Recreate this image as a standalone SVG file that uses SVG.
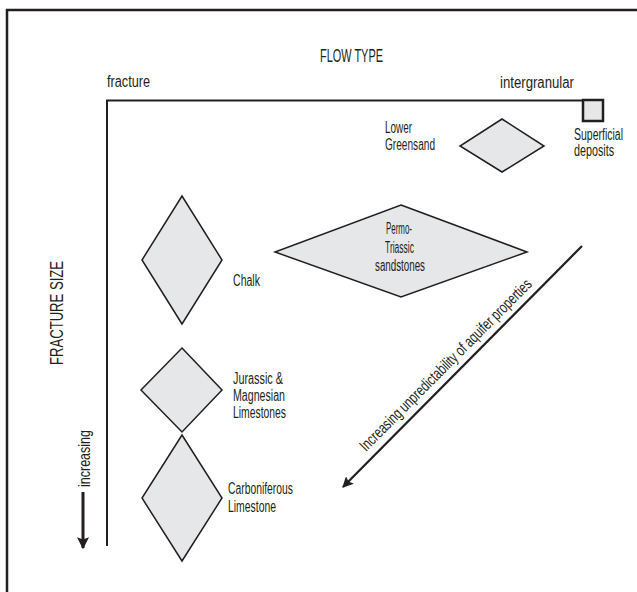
<svg xmlns="http://www.w3.org/2000/svg" width="637" height="592" viewBox="0 0 637 592">
<style>
text{font-family:"Liberation Sans",Arial,sans-serif;fill:#231f20;font-size:16px}
.t{font-size:18px}
.d{fill:#e6e7e8;stroke:#231f20;stroke-width:1.5}
.ax{fill:none;stroke:#231f20;stroke-width:2}
</style>
<defs>
<marker id="ah" viewBox="0 0 10 10" refX="9" refY="5" markerWidth="5" markerHeight="5" orient="auto" markerUnits="strokeWidth">
<path d="M0,0 L10,5 L0,10 L2,5 Z" fill="#231f20"/>
</marker>
<marker id="ah2" viewBox="0 0 10 10" refX="9" refY="5" markerWidth="5.5" markerHeight="4" orient="auto" markerUnits="strokeWidth">
<path d="M0,0 L10,5 L0,10 L2,5 Z" fill="#231f20"/>
</marker>
</defs>
<rect x="0" y="0" width="637" height="592" fill="#fff"/>
<path d="M7,592 V10 H637" fill="none" stroke="#231f20" stroke-width="2.5"/>
<g id="axes">
<path class="ax" d="M107,546 V100.5 H583"/>
<text class="t" x="320" y="62" textLength="63" lengthAdjust="spacingAndGlyphs">FLOW TYPE</text>
<text x="107" y="87" textLength="43" lengthAdjust="spacingAndGlyphs">fracture</text>
<text x="500" y="88" textLength="74" lengthAdjust="spacingAndGlyphs">intergranular</text>
<text class="t" transform="translate(63,365) rotate(-90)" textLength="104" lengthAdjust="spacingAndGlyphs">FRACTURE SIZE</text>
<text transform="translate(90,487) rotate(-90)" textLength="57" lengthAdjust="spacingAndGlyphs">increasing</text>
</g>
<g id="superficial">
<rect x="583" y="100" width="20" height="21" fill="#e6e7e8" stroke="#231f20" stroke-width="2.5"/>
<text x="574" y="140" textLength="49" lengthAdjust="spacingAndGlyphs">Superficial</text>
<text x="574" y="156" textLength="40" lengthAdjust="spacingAndGlyphs">deposits</text>
</g>
<g id="lower-greensand">
<polygon class="d" points="502,119 544,146 502,172 460,146"/>
<text x="385" y="133" textLength="27" lengthAdjust="spacingAndGlyphs">Lower</text>
<text x="385" y="150" textLength="50" lengthAdjust="spacingAndGlyphs">Greensand</text>
</g>
<g id="permo-triassic">
<polygon class="d" points="401,205 527,252 401,297 275,252"/>
<text x="386" y="234" textLength="26" lengthAdjust="spacingAndGlyphs">Permo-</text>
<text x="385" y="253" textLength="29" lengthAdjust="spacingAndGlyphs">Triassic</text>
<text x="375" y="271" textLength="50" lengthAdjust="spacingAndGlyphs">sandstones</text>
</g>
<g id="chalk">
<polygon class="d" points="182,196 222,260 182,324 142,260"/>
<text x="233" y="286" textLength="27" lengthAdjust="spacingAndGlyphs">Chalk</text>
</g>
<g id="jurassic">
<polygon class="d" points="182,348 222,390 182,432 141,390"/>
<text x="233" y="384" textLength="50" lengthAdjust="spacingAndGlyphs">Jurassic &amp;</text>
<text x="233" y="401" textLength="52" lengthAdjust="spacingAndGlyphs">Magnesian</text>
<text x="233" y="418" textLength="53" lengthAdjust="spacingAndGlyphs">Limestones</text>
</g>
<g id="carboniferous">
<polygon class="d" points="182,435 222,498 182,561 142,498"/>
<text x="228" y="494" textLength="65" lengthAdjust="spacingAndGlyphs">Carboniferous</text>
<text x="228" y="512" textLength="48" lengthAdjust="spacingAndGlyphs">Limestone</text>
</g>
<g id="connectors">
<line x1="83" y1="492" x2="83" y2="548" stroke="#231f20" stroke-width="3" marker-end="url(#ah2)"/>
<line x1="582" y1="246" x2="343" y2="487" stroke="#231f20" stroke-width="2.2" marker-end="url(#ah)"/>
<text transform="translate(366,452) rotate(-45)" textLength="236" lengthAdjust="spacingAndGlyphs">Increasing unpredictability of aquifer properties</text>
</g>
</svg>
